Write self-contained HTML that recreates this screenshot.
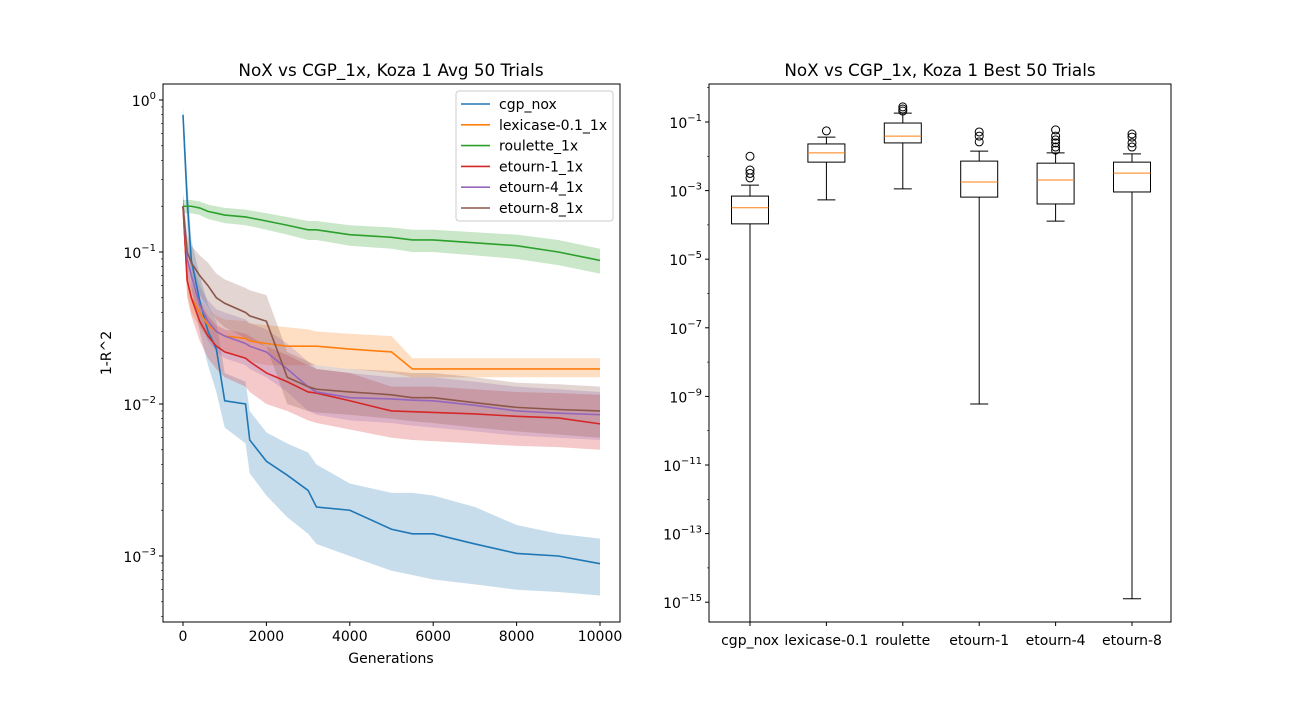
<!DOCTYPE html>
<html><head><meta charset="utf-8"><style>
body{margin:0;background:#fff;font-family:"Liberation Sans","DejaVu Sans",sans-serif;}
svg text{font-family:"DejaVu Sans","Liberation Sans",sans-serif;fill:#000;}
</style></head><body>
<svg id="c" width="1300" height="700" xmlns="http://www.w3.org/2000/svg">
<rect width="1300" height="700" fill="#fff"/>
</svg>
<script>
// ---- left chart data ----
const gens = [0,100,200,400,600,800,1000,1500,1600,2000,2500,3000,3200,4000,5000,5500,6000,7000,8000,9000,10000];
const seriesNames = ["cgp_nox","lexicase-0.1_1x","roulette_1x","etourn-1_1x","etourn-4_1x","etourn-8_1x"];
const cgpMean = [0.8,0.22,0.088,0.048,0.03,0.023,0.0105,0.01,0.0058,0.0042,0.0034,0.0027,0.0021,0.002,0.0015,0.0014,0.0014,0.0012,0.00104,0.001,0.00089];
const cgpLo   = [0.6,0.15,0.06,0.03,0.018,0.012,0.007,0.0055,0.0035,0.0025,0.0018,0.0014,0.0012,0.001,0.0008,0.00075,0.0007,0.00065,0.0006,0.00058,0.00055];
const cgpHi   = [0.9,0.3,0.12,0.07,0.045,0.035,0.016,0.014,0.009,0.0065,0.0055,0.0048,0.004,0.003,0.0026,0.0026,0.0025,0.0021,0.0016,0.0014,0.0013];
const lexMean = [0.2,0.065,0.05,0.04,0.033,0.03,0.028,0.027,0.026,0.025,0.024,0.024,0.024,0.023,0.022,0.017,0.017,0.017,0.017,0.017,0.017];
const lexLo   = [0.17,0.055,0.04,0.032,0.027,0.024,0.022,0.02,0.019,0.018,0.018,0.018,0.018,0.017,0.016,0.015,0.015,0.015,0.015,0.015,0.015];
const lexHi   = [0.23,0.08,0.06,0.05,0.042,0.038,0.036,0.035,0.034,0.033,0.032,0.031,0.03,0.029,0.028,0.02,0.02,0.02,0.02,0.02,0.02];
const rouMean = [0.2,0.2,0.2,0.195,0.185,0.18,0.175,0.17,0.168,0.16,0.15,0.14,0.14,0.13,0.125,0.12,0.12,0.115,0.11,0.1,0.088];
const rouLo   = [0.18,0.18,0.18,0.175,0.165,0.16,0.155,0.15,0.148,0.14,0.13,0.12,0.12,0.11,0.105,0.1,0.1,0.095,0.09,0.082,0.072];
const rouHi   = [0.22,0.22,0.22,0.215,0.205,0.2,0.195,0.19,0.188,0.18,0.17,0.16,0.16,0.15,0.145,0.14,0.14,0.135,0.13,0.12,0.105];
const et1Mean = [0.2,0.065,0.05,0.035,0.028,0.024,0.022,0.02,0.019,0.016,0.014,0.012,0.0118,0.0105,0.009,0.0089,0.0088,0.0086,0.0083,0.0081,0.0074];
const et1Lo   = [0.16,0.05,0.038,0.026,0.02,0.017,0.015,0.013,0.012,0.01,0.009,0.0078,0.0075,0.0068,0.006,0.0058,0.0057,0.0055,0.0053,0.0052,0.005];
const et1Hi   = [0.24,0.085,0.065,0.047,0.038,0.033,0.031,0.029,0.028,0.024,0.021,0.018,0.017,0.016,0.013,0.013,0.013,0.0125,0.012,0.0118,0.0115];
const et4Mean = [0.2,0.09,0.07,0.045,0.035,0.03,0.028,0.025,0.024,0.022,0.017,0.013,0.012,0.011,0.0108,0.0106,0.0105,0.0098,0.009,0.0087,0.0085];
const et4Lo   = [0.16,0.07,0.055,0.034,0.026,0.022,0.02,0.018,0.017,0.015,0.012,0.009,0.0085,0.0078,0.0075,0.0072,0.007,0.0066,0.0062,0.006,0.0058];
const et4Hi   = [0.24,0.12,0.09,0.06,0.048,0.042,0.04,0.036,0.034,0.031,0.025,0.019,0.017,0.016,0.015,0.015,0.015,0.014,0.013,0.0125,0.012];
const et8Mean = [0.2,0.1,0.085,0.07,0.06,0.05,0.046,0.04,0.038,0.035,0.015,0.013,0.0125,0.012,0.0115,0.011,0.011,0.0102,0.0095,0.0092,0.009];
const et8Lo   = [0.16,0.08,0.065,0.052,0.043,0.036,0.032,0.027,0.026,0.024,0.01,0.009,0.0088,0.0085,0.008,0.0077,0.0075,0.007,0.0066,0.0063,0.006];
const et8Hi   = [0.24,0.13,0.11,0.095,0.085,0.072,0.066,0.058,0.056,0.052,0.022,0.019,0.018,0.017,0.0165,0.016,0.016,0.015,0.0138,0.0135,0.013];
const xTicks = [0,2000,4000,6000,8000,10000];
const yExpsLeft = [0,-1,-2,-3];
// ---- right chart data (log10 values) ----
const boxCats = ["cgp_nox","lexicase-0.1","roulette","etourn-1","etourn-4","etourn-8"];
const boxWhiskLo = [-16.5,-3.27,-2.95,-9.22,-3.89,-14.9];
const boxQ1 = [-3.97,-2.17,-1.61,-3.19,-3.39,-3.04];
const boxMed = [-3.5,-1.9,-1.41,-2.75,-2.69,-2.49];
const boxQ3 = [-3.16,-1.64,-1.03,-2.14,-2.2,-2.17];
const boxWhiskHi = [-2.84,-1.44,-0.74,-1.85,-1.9,-1.93];
const boxFliers = [[-2.0,-2.4,-2.5,-2.63],[-1.26],[-0.56,-0.62,-0.68],[-1.29,-1.41,-1.58],[-1.23,-1.41,-1.52,-1.61,-1.73,-1.82],[-1.35,-1.44,-1.61,-1.73]];
const yExpsRight = [-1,-3,-5,-7,-9,-11,-13,-15];

const svg=document.getElementById('c');const NS="http://www.w3.org/2000/svg";
function mk(t,a,p){const e=document.createElementNS(NS,t);for(const k in a)e.setAttribute(k,a[k]);(p||svg).appendChild(e);return e;}
const FS=14;
const L={x0:163,x1:620,y0:84,y1:622};
const lx=g=>183+(g/10000)*417;
const ly=v=>100-Math.log10(v)*152;
const colors=["#1f77b4","#ff7f0e","#2ca02c","#d62728","#9467bd","#8c564b"];
const means=[cgpMean,lexMean,rouMean,et1Mean,et4Mean,et8Mean];
const los=[cgpLo,lexLo,rouLo,et1Lo,et4Lo,et8Lo];
const his=[cgpHi,lexHi,rouHi,et1Hi,et4Hi,et8Hi];
const clip=mk('clipPath',{id:'lc'});mk('rect',{x:L.x0,y:L.y0,width:L.x1-L.x0,height:L.y1-L.y0},clip);
const gl=mk('g',{'clip-path':'url(#lc)'});


function pts(arr){return gens.map((g,i)=>[lx(g),ly(arr[i])]);}
for(let s=0;s<6;s++){
 const up=pts(his[s]),dn=pts(los[s]).reverse();
 const band=mk('polygon',{points:up.concat(dn).map(p=>p.join(',')).join(' '),fill:colors[s],'fill-opacity':0.25,stroke:'none'},gl);
 
 
}
for(let s=0;s<6;s++){
 const ln=mk('polyline',{points:pts(means[s]).map(p=>p.join(',')).join(' '),fill:'none',stroke:colors[s],'stroke-width':1.6},gl);
 
 
}
mk('rect',{x:L.x0,y:L.y0,width:L.x1-L.x0,height:L.y1-L.y0,fill:'none',stroke:'#000','stroke-width':1});
xTicks.forEach(t=>{const x=lx(t);mk('line',{x1:x,x2:x,y1:L.y1,y2:L.y1+4,stroke:'#000'});
 const tx=mk('text',{x:x,y:L.y1+19,'text-anchor':'middle','font-size':FS});tx.textContent=t;
 });
function supLabel(x,y,e){const t=mk('text',{x:x,y:y,'text-anchor':'end','font-size':FS});
 const a=document.createElementNS(NS,'tspan');a.textContent='10';t.appendChild(a);
 const b=document.createElementNS(NS,'tspan');b.setAttribute('dy','-7');b.setAttribute('font-size','10');b.textContent=(e<0?'\u2212'+(-e):e);t.appendChild(b);
 return t;}
yExpsLeft.forEach(e=>{const y=ly(Math.pow(10,e));mk('line',{x1:L.x0-4,x2:L.x0,y1:y,y2:y,stroke:'#000'});supLabel(L.x0-7,y+6,e);});
for(let e=-4;e<=0;e++)for(let m=2;m<10;m++){const y=ly(m*Math.pow(10,e));if(y>L.y0&&y<L.y1)mk('line',{x1:L.x0-2,x2:L.x0,y1:y,y2:y,stroke:'#000','stroke-width':0.6});}
let t=mk('text',{x:391,y:76,'text-anchor':'middle','font-size':16.8});t.textContent='NoX vs CGP_1x, Koza 1 Avg 50 Trials';
t=mk('text',{x:391,y:663,'text-anchor':'middle','font-size':FS});t.textContent='Generations';
t=mk('text',{x:111,y:353,'text-anchor':'middle','font-size':FS,transform:'rotate(-90 111 353)'});t.textContent='1-R^2';
const lg=mk('g',{});
mk('rect',{x:456,y:91,width:157,height:130,rx:3,fill:'#fff','fill-opacity':0.85,stroke:'#ccc'},lg);
seriesNames.forEach((n,i)=>{const y=104+i*20.8;mk('line',{x1:461,x2:490,y1:y,y2:y,stroke:colors[i],'stroke-width':1.6},lg);
 const tt=mk('text',{x:499,y:y+5,'font-size':FS},lg);tt.textContent=n;});
const R={x0:709,x1:1171,y0:84,y1:622};
const ry=lv=>122-(lv+1)*34.3;
const bx=i=>750+i*76.4;
const clip2=mk('clipPath',{id:'rc'});mk('rect',{x:R.x0,y:R.y0,width:R.x1-R.x0,height:R.y1-R.y0},clip2);
const gr=mk('g',{'clip-path':'url(#rc)'});

boxCats.forEach((c,i)=>{const x=bx(i),w=18.5;
 const g=mk('g',{},gr);
 mk('line',{x1:x,x2:x,y1:ry(boxQ1[i]),y2:ry(boxWhiskLo[i]),stroke:'#000'},g);
 mk('line',{x1:x,x2:x,y1:ry(boxQ3[i]),y2:ry(boxWhiskHi[i]),stroke:'#000'},g);
 mk('line',{x1:x-9,x2:x+9,y1:ry(boxWhiskLo[i]),y2:ry(boxWhiskLo[i]),stroke:'#000'},g);
 mk('line',{x1:x-9,x2:x+9,y1:ry(boxWhiskHi[i]),y2:ry(boxWhiskHi[i]),stroke:'#000'},g);
 mk('rect',{x:x-w,y:ry(boxQ3[i]),width:2*w,height:ry(boxQ1[i])-ry(boxQ3[i]),fill:'none',stroke:'#000'},g);
 mk('line',{x1:x-w,x2:x+w,y1:ry(boxMed[i]),y2:ry(boxMed[i]),stroke:'#ff7f0e'},g);
 boxFliers[i].forEach(f=>mk('circle',{cx:x,cy:ry(f),r:4,fill:'none',stroke:'#000'},g));
 const tx=mk('text',{x:x,y:R.y1+23,'text-anchor':'middle','font-size':FS});tx.textContent=c;
 
 mk('line',{x1:x,x2:x,y1:R.y1,y2:R.y1+4,stroke:'#000'});
});
mk('rect',{x:R.x0,y:R.y0,width:R.x1-R.x0,height:R.y1-R.y0,fill:'none',stroke:'#000'});
yExpsRight.forEach(e=>{const y=ry(e);mk('line',{x1:R.x0-4,x2:R.x0,y1:y,y2:y,stroke:'#000'});supLabel(R.x0-7,y+6,e);});
for(let e=-16;e<=0;e+=2){const y=ry(e);if(y>R.y0&&y<R.y1)mk('line',{x1:R.x0-2,x2:R.x0,y1:y,y2:y,stroke:'#000','stroke-width':0.6});}
t=mk('text',{x:940,y:76,'text-anchor':'middle','font-size':16.8});t.textContent='NoX vs CGP_1x, Koza 1 Best 50 Trials';
</script>
</body></html>
